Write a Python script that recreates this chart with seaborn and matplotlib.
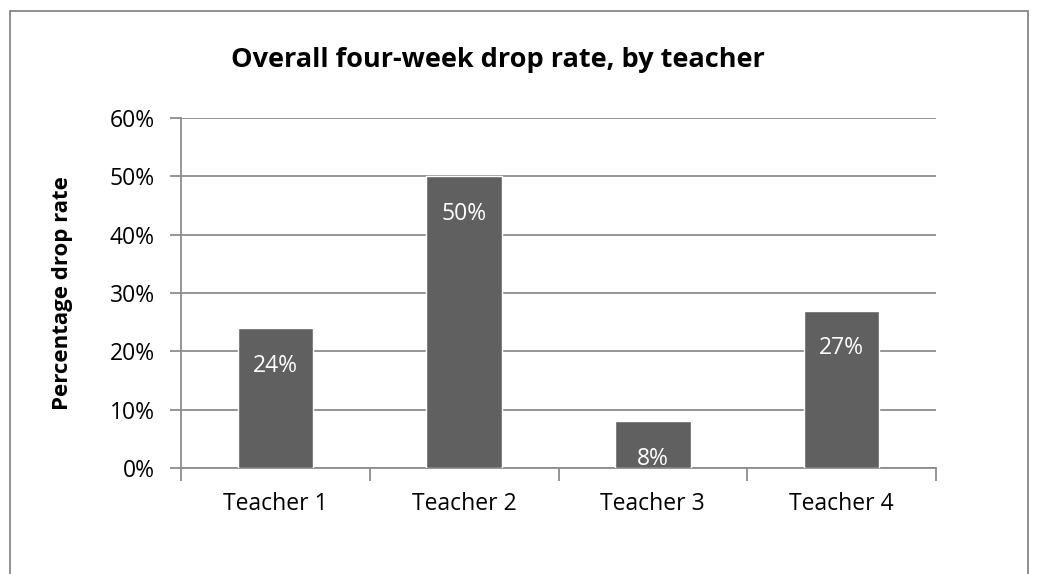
import seaborn as sns
import matplotlib.pyplot as plt
import matplotlib.patches as patches
import pandas as pd

# 데이터
teachers = ['Teacher 1', 'Teacher 2', 'Teacher 3', 'Teacher 4']
drop_rate = [24, 50, 8, 27]
y_ticks = [0, 10, 20, 30, 40, 50, 60]

df = pd.DataFrame({'teacher': teachers, 'rate': drop_rate})

sns.set_style('white')
plt.rcParams['font.family'] = ['Open Sans', 'DejaVu Sans']
plt.rcParams['text.color'] = 'black'
plt.rcParams['xtick.color'] = 'black'
plt.rcParams['ytick.color'] = 'black'
plt.rcParams['axes.labelcolor'] = 'black'

W, H = 1037, 574
fig = plt.figure(figsize=(W / 100, H / 100), dpi=100)
ax = fig.add_axes([181 / W, 1 - 468 / H, (936 - 181) / W, (468 - 118) / H])

grid_c = '#8c8c8c'
sns.barplot(data=df, x='teacher', y='rate', color='#606060', width=0.4,
            saturation=1, ax=ax, zorder=3)

ax.set_ylim(0, 60)
ax.set_xlim(-0.5, 3.5)
ax.set_yticks(y_ticks)
ax.set_yticklabels([f'{t}%' for t in y_ticks], fontsize=16.5)
ax.yaxis.grid(True, color=grid_c, linewidth=1.3, zorder=0)
ax.set_axisbelow(True)

# x축 눈금은 범주 경계에
ax.set_xticks([i + 0.5 for i in range(-1, 4)], minor=False)
ax.set_xticklabels([''] * 5)
ax.set_xticks(range(4), minor=True)
ax.set_xticklabels(teachers, minor=True, fontsize=16.5)
ax.tick_params(axis='x', which='major', direction='out', length=9, width=1.3,
               color=grid_c, bottom=True)
ax.tick_params(axis='x', which='minor', length=0, pad=17)
ax.tick_params(axis='y', direction='out', length=8, width=1.3, color=grid_c,
               left=True, pad=11)

for s in ['top', 'right']:
    ax.spines[s].set_visible(False)
for s in ['left', 'bottom']:
    ax.spines[s].set_color(grid_c)
    ax.spines[s].set_linewidth(1.3)

ax.set_xlabel('')
ax.set_ylabel('Percentage drop rate', fontsize=16, fontweight='bold', labelpad=26)

# 막대 안 라벨
for i, v in enumerate(drop_rate):
    ax.annotate(f'{v}%', xy=(i, v), xytext=(0, -27), textcoords='offset points',
                ha='center', va='center', color='white', fontsize=16.5)

fig.text(498 / W, 1 - 60 / H, 'Overall four-week drop rate, by teacher',
         ha='center', va='center', fontsize=19.5, fontweight='bold')

# 바깥 테두리
border = patches.Rectangle((9.5 / W, -0.05), (1028 - 9.5) / W, 1.05 - 10.5 / H,
                           transform=fig.transFigure, fill=False,
                           edgecolor='#868686', linewidth=1.3, clip_on=False)
fig.patches.append(border)

fig.savefig('out.png', dpi=100)
